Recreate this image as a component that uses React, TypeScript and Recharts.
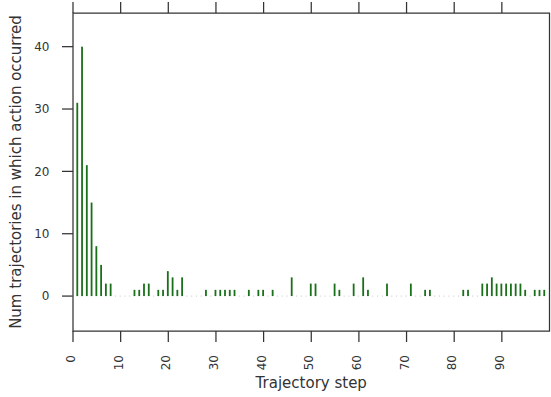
import { Bar, BarChart, Label, ReferenceArea, XAxis, YAxis } from "recharts";

// step -> number of trajectories in which the action occurred
const steps: number[] = Array.from({ length: 100 }, (_, i) => i);
const counts: number[] = [
  0, 31, 40, 21, 15, 8, 5, 2, 2, 0,
  0, 0, 0, 1, 1, 2, 2, 0, 1, 1,
  4, 3, 1, 3, 0, 0, 0, 0, 1, 0,
  1, 1, 1, 1, 1, 0, 0, 1, 0, 1,
  1, 0, 1, 0, 0, 0, 3, 0, 0, 0,
  2, 2, 0, 0, 0, 2, 1, 0, 0, 2,
  0, 3, 1, 0, 0, 0, 2, 0, 0, 0,
  0, 2, 0, 0, 1, 1, 0, 0, 0, 0,
  0, 0, 1, 1, 0, 0, 2, 2, 3, 2,
  2, 2, 2, 2, 2, 1, 0, 1, 1, 1,
];
const xTicks = [0, 10, 20, 30, 40, 50, 60, 70, 80, 90];
const yTicks = [0, 10, 20, 30, 40];
const xDomain = [0, 100];
const yDomain = [-5.6, 45.4];

const data = steps.map((s, i) => ({ step: s, count: counts[i] }));

const FONT = "DejaVu Sans";
const INK = "#333333";
const LINE = "#333333";
const TICK_LEN = 11;
const PLOT_TOP = 13;
const PLOT_BOTTOM = 331;
const PLOT_LEFT = 73;

// zero-count steps show up as a faint dot on the baseline
const StepBar = (props: any) => {
  const { x, y, width, height, payload } = props;
  if (!payload || payload.count === 0) {
    return <rect x={x + width / 2 - 0.5} y={y - 0.5} width={1} height={1} fill="#c4c4c4" />;
  }
  return <rect x={x} y={y} width={width} height={height} fill="#1a701a" />;
};

// bottom tick: mark below the frame, mirrored mark above the top edge, rotated label
const BottomTick = (props: any) => {
  const { x, payload } = props;
  return (
    <g>
      <line x1={x} x2={x} y1={PLOT_BOTTOM} y2={PLOT_BOTTOM + TICK_LEN} stroke={LINE} strokeWidth={1.25} />
      <line x1={x} x2={x} y1={PLOT_TOP} y2={PLOT_TOP - TICK_LEN} stroke={LINE} strokeWidth={1.25} />
      <text
        transform={`translate(${x + 2}, 355) rotate(-90)`}
        textAnchor="end"
        fontSize={12}
        fontFamily={FONT}
        fill={INK}
      >
        {payload.value}
      </text>
    </g>
  );
};

const LeftTick = (props: any) => {
  const { y, payload } = props;
  return (
    <g>
      <line x1={PLOT_LEFT - TICK_LEN} x2={PLOT_LEFT} y1={y} y2={y} stroke={LINE} strokeWidth={1.25} />
      <text x={49.5} y={y} dy="0.36em" textAnchor="end" fontSize={12} fontFamily={FONT} fill={INK}>
        {payload.value}
      </text>
    </g>
  );
};

const XTitle = (props: any) => {
  const { x, y, width } = props.viewBox;
  return (
    <text x={x + width / 2} y={y + 56.5} textAnchor="middle" fontSize={15} fontFamily={FONT} fill={INK}>
      Trajectory step
    </text>
  );
};

const YTitle = (props: any) => {
  const { y, height } = props.viewBox;
  return (
    <text
      transform={`translate(21, ${y + height / 2}) rotate(-90)`}
      textAnchor="middle"
      fontSize={15}
      fontFamily={FONT}
      fill={INK}
    >
      Num trajectories in which action occurred
    </text>
  );
};

export default function App() {
  return (
    <div style={{ position: "absolute", left: 0, top: 0, background: "#fff" }}>
      <BarChart
        width={551}
        height={397}
        data={data}
        margin={{ top: PLOT_TOP, right: 1.5, bottom: 0, left: 0 }}
        barSize={1.8}
      >
        <XAxis
          xAxisId="b"
          dataKey="step"
          type="number"
          domain={xDomain}
          ticks={xTicks}
          height={66}
          tickLine={false}
          axisLine={false}
          tick={<BottomTick />}
          interval={0}
        >
          <Label content={<XTitle />} />
        </XAxis>
        <YAxis
          yAxisId="l"
          type="number"
          domain={yDomain}
          ticks={yTicks}
          width={PLOT_LEFT}
          tickLine={false}
          axisLine={false}
          tick={<LeftTick />}
          allowDataOverflow
          interval={0}
        >
          <Label content={<YTitle />} />
        </YAxis>
        <Bar
          xAxisId="b"
          yAxisId="l"
          dataKey="count"
          shape={<StepBar />}
          isAnimationActive={false}
        />
        <ReferenceArea
          xAxisId="b"
          yAxisId="l"
          x1={xDomain[0]}
          x2={xDomain[1]}
          y1={yDomain[0]}
          y2={yDomain[1]}
          fill="none"
          fillOpacity={0}
          stroke={LINE}
          strokeWidth={1.25}
          ifOverflow="visible"
        />
      </BarChart>
    </div>
  );
}
